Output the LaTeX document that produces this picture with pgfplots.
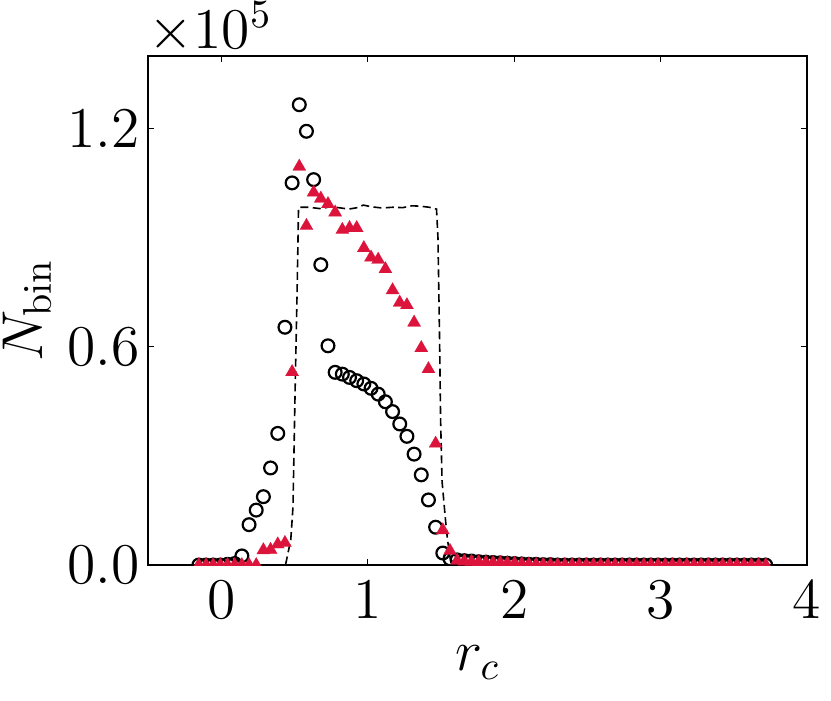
\documentclass[border=0pt]{standalone}
\usepackage{pgfplots}
\pgfplotsset{compat=1.18}
\definecolor{crimson}{RGB}{220,20,60}

% circles (o) and triangles (^), values in units of 10^5
\pgfplotstableread{
x      circ   tri
-0.153 0.000  0.000
-0.104 0.000  0.000
-0.055 0.000  0.000
-0.006 0.000  0.000
0.043  0.002  0.000
0.092  0.004  0.000
0.141  0.025  0.000
0.190  0.111  0.000
0.239  0.151  0.000
0.288  0.188  0.041
0.337  0.267  0.042
0.386  0.362  0.057
0.435  0.654  0.061
0.484  1.051  0.531
0.533  1.266  1.096
0.582  1.193  0.933
0.631  1.060  1.025
0.680  0.826  1.008
0.729  0.603  0.993
0.778  0.530  0.970
0.827  0.525  0.922
0.876  0.516  0.927
0.925  0.507  0.927
0.974  0.498  0.872
1.023  0.486  0.846
1.072  0.470  0.840
1.121  0.449  0.814
1.170  0.422  0.756
1.219  0.388  0.722
1.268  0.354  0.715
1.317  0.305  0.667
1.366  0.248  0.597
1.415  0.179  0.539
1.464  0.104  0.334
1.513  0.033  0.096
1.562  0.017  0.039
1.611  0.014  0.012
1.660  0.012  0.010
1.709  0.011  0.009
1.758  0.009  0.008
1.807  0.008  0.007
1.856  0.007  0.006
1.905  0.006  0.006
1.954  0.005  0.005
2.003  0.004  0.004
2.052  0.003  0.003
2.101  0.002  0.002
2.150  0.002  0.001
2.199  0.001  0.001
2.248  0.001  0.000
2.297  0.000  0.000
2.346  0.000  0.000
2.395  0.000  0.000
2.444  0.000  0.000
2.493  0.000  0.000
2.542  0.000  0.000
2.591  0.000  0.000
2.640  0.000  0.000
2.689  0.000  0.000
2.738  0.000  0.000
2.787  0.000  0.000
2.836  0.000  0.000
2.885  0.000  0.000
2.934  0.000  0.000
2.983  0.000  0.000
3.032  0.000  0.000
3.081  0.000  0.000
3.130  0.000  0.000
3.179  0.000  0.000
3.228  0.000  0.000
3.277  0.000  0.000
3.326  0.000  0.000
3.375  0.000  0.000
3.424  0.000  0.000
3.473  0.000  0.000
3.522  0.000  0.000
3.571  0.000  0.000
3.620  0.000  0.000
3.669  0.000  0.000
3.718  0.000  0.000
}\bins

\begin{document}
\begin{tikzpicture}
\begin{axis}[
  at={(0,0)}, anchor=south west,
  scale only axis, width=164.75pt, height=127.25pt,
  xmin=-0.5, xmax=4, ymin=0, ymax=1.4,
  xtick={0,1,2,3,4}, ytick={0,0.6,1.2},
  yticklabels={$0.0$,$0.6$,$1.2$},
  tick align=inside, major tick length=1.5pt,
  tick style={black, line width=0.25pt},
  axis line style={line width=0.5pt},
  tick label style={font=\fontsize{14.4}{17}\selectfont, inner sep=0pt},
  xticklabel style={yshift=-4pt},
  yticklabel style={xshift=-2pt},
  every axis x label/.style={at={(axis description cs:0.5,-0.157)}, anchor=north, inner sep=0pt},
  every axis y label/.style={at={(axis description cs:-0.146,0.5)}, rotate=90, anchor=south, inner sep=0pt},
  label style={font=\fontsize{14.4}{17}\selectfont},
  xlabel={$r_c$}, ylabel={$N_{\mathrm{bin}}$},
  clip marker paths=true,
]
  \addplot[black, line width=0.4pt, dash pattern=on 2pt off 1.1pt]
    coordinates {(-0.153,0) (0.40,0) (0.44,0.002) (0.475,0.07) (0.49,0.16)
      (0.505,0.49) (0.518,0.75) (0.528,0.984) (0.60,0.984) (0.68,0.980)
      (0.75,0.986) (0.80,0.983) (0.87,0.979) (0.93,0.983) (0.97,0.990)
      (1.03,0.985) (1.10,0.982) (1.17,0.984) (1.24,0.983) (1.30,0.988)
      (1.36,0.987) (1.42,0.984) (1.470,0.979) (1.480,0.90) (1.491,0.62)
      (1.498,0.40) (1.508,0.23) (1.530,0.13) (1.545,0.07) (1.565,0.015)
      (1.60,0.003) (1.70,0) (3.718,0)};
  \addplot[only marks, mark=o, mark size=1.6pt, mark options={black, line width=0.55pt}]
    table[x=x, y=circ] {\bins};
  \addplot[only marks, mark=triangle*, mark size=1.9pt,
    mark options={fill=crimson, draw=crimson, line width=0.05pt}]
    table[x=x, y=tri] {\bins};
\end{axis}
\node[anchor=base west, inner sep=0pt, font=\fontsize{14.4}{17}\selectfont]
  at (0pt,129.25pt) {$\times10^{5}$};
\pgfresetboundingbox
\path[use as bounding box] (-37pt,-33.75pt) rectangle (170.75pt,141.25pt);
\end{tikzpicture}
\end{document}
